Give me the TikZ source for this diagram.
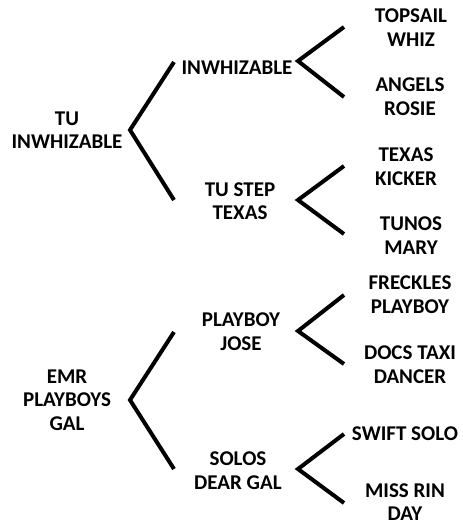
\documentclass[tikz,border=0pt]{standalone}
\usepackage{fontspec}
\setmainfont{Carlito}

\begin{document}
\begin{tikzpicture}[x=1pt, y=-1pt,
    horse/.style={font=\bfseries\fontsize{21}{23.5}\selectfont, align=center, inner sep=0pt},
    bracket/.style={line width=4pt, black, line join=miter}]

    \useasboundingbox (0,0) rectangle (463,525);

    % ==========================================
    % 1. BRACKET COORDINATES
    % ==========================================
    % Top family: sire and its two parents
    \coordinate (SireV)  at (130,130);
    \coordinate (SireU)  at (174,62);
    \coordinate (SireD)  at (174,200);

    \coordinate (SsV)    at (298,61);
    \coordinate (SsU)    at (344,27);
    \coordinate (SsD)    at (344,97);

    \coordinate (SdV)    at (298,200);
    \coordinate (SdU)    at (344,166);
    \coordinate (SdD)    at (344,234);

    % Bottom family: dam and its two parents
    \coordinate (DamV)   at (130,400);
    \coordinate (DamU)   at (174,332);
    \coordinate (DamD)   at (174,469);

    \coordinate (DsV)    at (298,331);
    \coordinate (DsU)    at (344,295);
    \coordinate (DsD)    at (344,364);

    \coordinate (DdV)    at (298,469);
    \coordinate (DdU)    at (344,434);
    \coordinate (DdD)    at (344,503);

    % ==========================================
    % 2. BRACKETS
    % ==========================================
    \draw[bracket] (SireU) -- (SireV) -- (SireD);
    \draw[bracket] (SsU) -- (SsV) -- (SsD);
    \draw[bracket] (SdU) -- (SdV) -- (SdD);

    \draw[bracket] (DamU) -- (DamV) -- (DamD);
    \draw[bracket] (DsU) -- (DsV) -- (DsD);
    \draw[bracket] (DdU) -- (DdV) -- (DdD);

    % ==========================================
    % 3. NAMES
    % ==========================================
    \node[horse] (sire) at (67,130)    {TU\\INWHIZABLE};
    \node[horse] (ss)   at (237,68)    {INWHIZABLE};
    \node[horse] (sd)   at (240,201)   {TU STEP\\TEXAS};
    \node[horse] (sss)  at (411,27.5)  {TOPSAIL\\WHIZ};
    \node[horse] (ssd)  at (410,96.5)  {ANGELS\\ROSIE};
    \node[horse] (sds)  at (406,166.5) {TEXAS\\KICKER};
    \node[horse] (sdd)  at (411,235.5) {TUNOS\\MARY};

    \node[horse] (dam)  at (67,400)    {EMR\\PLAYBOYS\\GAL};
    \node[horse] (ds)   at (241,331.5) {PLAYBOY\\JOSE};
    \node[horse] (dd)   at (238,470.5) {SOLOS\\DEAR GAL};
    \node[horse] (dss)  at (410,294.5) {FRECKLES\\PLAYBOY};
    \node[horse] (dsd)  at (410,364.5) {DOCS TAXI\\DANCER};
    \node[horse] (dds)  at (405,434)   {SWIFT SOLO};
    \node[horse] (ddd)  at (405,502)   {MISS RIN\\DAY};

\end{tikzpicture}
\end{document}
